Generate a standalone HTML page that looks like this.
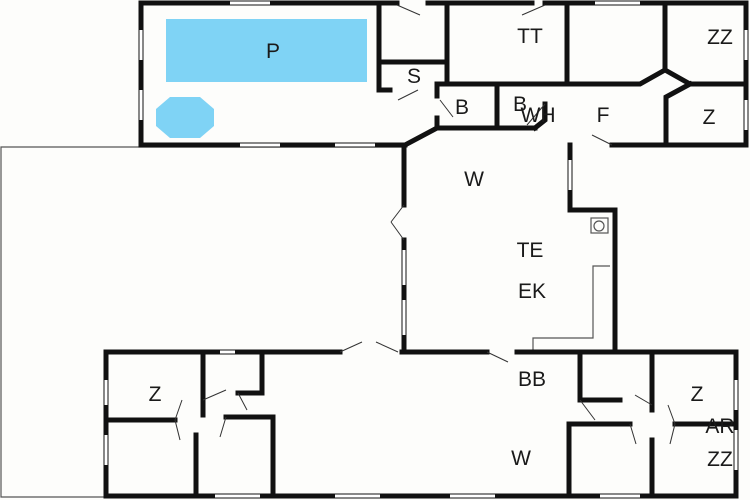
<!DOCTYPE html><html><head><style>body{margin:0;background:#fff}svg{display:block}text{font-family:"Liberation Sans",sans-serif;font-size:21px;fill:#1a1a1a;text-anchor:middle}</style></head><body>
<svg width="750" height="500" viewBox="0 0 750 500">
<rect width="750" height="500" fill="#fdfdfb"/>
<g fill="none" stroke="#555" stroke-width="1.2">
<polyline points="404,147 1,147 1,497 104,497"/>
<polyline points="533,352 533,338 593,338 593,266 610,266"/>
<rect x="591" y="218" width="17" height="15"/>
<circle cx="599" cy="226" r="5"/>
</g>
<rect x="166" y="19" width="201" height="63" fill="#7fd3f5"/>
<polygon points="170,97 200,97 214,109 214,126 200,138 170,138 156,126 156,109" fill="#7fd3f5"/>
<g stroke="#111" stroke-width="5" fill="none" stroke-linecap="square">
<!-- top building -->
<polyline points="397,3 141,3 141,145 405,145"/>
<line x1="428" y1="3" x2="532" y2="3"/>
<line x1="545" y1="3" x2="746" y2="3"/>
<line x1="746" y1="3" x2="746" y2="145"/>
<line x1="612" y1="145" x2="746" y2="145"/>
<polyline points="379,3 379,90 390,90"/>
<line x1="379" y1="62" x2="447" y2="62"/>
<line x1="447" y1="3" x2="447" y2="84"/>
<line x1="567" y1="3" x2="567" y2="84"/>
<polyline points="437,84 640,84 665,70 690,84 746,84"/>
<line x1="665" y1="3" x2="665" y2="70"/>
<polyline points="690,84 666,97 666,145"/>
<line x1="437" y1="84" x2="437" y2="96"/>
<polyline points="437,118 437,128 405,145"/>
<line x1="437" y1="128" x2="535" y2="128"/>
<line x1="497" y1="84" x2="497" y2="128"/>
<polyline points="535,128 545,120 545,104"/>
<!-- middle -->
<line x1="404" y1="145" x2="404" y2="205"/>
<line x1="404" y1="240" x2="404" y2="352"/>
<polyline points="570,145 570,210 615,210 615,352"/>
<!-- bottom building -->
<polyline points="340,352 106,352 106,496 736,496 736,352 620,352"/>
<line x1="402" y1="352" x2="487" y2="352"/>
<line x1="517" y1="352" x2="610" y2="352"/>
<line x1="203" y1="352" x2="203" y2="415"/>
<line x1="262" y1="352" x2="262" y2="393"/>
<line x1="238" y1="393" x2="262" y2="393"/>
<line x1="106" y1="420" x2="175" y2="420"/>
<line x1="196" y1="435" x2="196" y2="496"/>
<polyline points="226,417 273,417 273,496"/>
<polyline points="580,352 580,400 620,400"/>
<line x1="652" y1="352" x2="652" y2="410"/>
<polyline points="630,424 569,424 569,496"/>
<line x1="652" y1="440" x2="652" y2="496"/>
<line x1="675" y1="424" x2="736" y2="424"/>
</g>
<g stroke="#fff" stroke-width="3">
<line x1="230" y1="3" x2="270" y2="3"/><line x1="141" y1="30" x2="141" y2="60"/><line x1="141" y1="90" x2="141" y2="120"/>
<line x1="240" y1="145" x2="280" y2="145"/><line x1="335" y1="145" x2="375" y2="145"/>
<line x1="595" y1="3" x2="640" y2="3"/><line x1="746" y1="30" x2="746" y2="60"/><line x1="746" y1="100" x2="746" y2="130"/>
<line x1="404" y1="250" x2="404" y2="285"/><line x1="404" y1="300" x2="404" y2="335"/><line x1="570" y1="160" x2="570" y2="190"/>
<line x1="106" y1="380" x2="106" y2="405"/><line x1="106" y1="435" x2="106" y2="465"/><line x1="220" y1="352" x2="235" y2="352"/>
<line x1="215" y1="496" x2="260" y2="496"/><line x1="335" y1="496" x2="380" y2="496"/><line x1="450" y1="496" x2="495" y2="496"/>
<line x1="600" y1="496" x2="640" y2="496"/><line x1="736" y1="380" x2="736" y2="410"/><line x1="736" y1="430" x2="736" y2="470"/>
</g>
<g stroke="#333" stroke-width="1">
<line x1="397" y1="5" x2="420" y2="15"/><line x1="545" y1="5" x2="522" y2="15"/><line x1="418" y1="90" x2="398" y2="100"/>
<line x1="440" y1="100" x2="453" y2="117"/><line x1="545" y1="104" x2="527" y2="125"/><line x1="592" y1="135" x2="612" y2="145"/>
<line x1="404" y1="205" x2="391" y2="222"/><line x1="404" y1="240" x2="391" y2="222"/>
<line x1="340" y1="352" x2="362" y2="342"/><line x1="398" y1="352" x2="376" y2="342"/><line x1="487" y1="352" x2="508" y2="362"/>
<line x1="175" y1="420" x2="182" y2="400"/><line x1="175" y1="420" x2="180" y2="440"/><line x1="203" y1="400" x2="226" y2="390"/>
<line x1="238" y1="393" x2="247" y2="410"/><line x1="226" y1="417" x2="220" y2="437"/>
<line x1="580" y1="400" x2="595" y2="420"/><line x1="652" y1="405" x2="635" y2="395"/><line x1="630" y1="424" x2="636" y2="444"/>
<line x1="675" y1="424" x2="668" y2="405"/><line x1="675" y1="424" x2="670" y2="444"/>
</g>
<text x="273" y="58">P</text><text x="530" y="43">TT</text><text x="720" y="44">ZZ</text>
<text x="414" y="83">S</text><text x="462" y="114">B</text><text x="520" y="111">B</text><text x="538" y="122">WH</text>
<text x="603" y="122">F</text><text x="709" y="124">Z</text><text x="474" y="186">W</text>
<text x="530" y="257">TE</text><text x="532" y="298">EK</text><text x="532" y="386">BB</text>
<text x="155" y="401">Z</text><text x="697" y="401">Z</text><text x="720" y="433">AR</text><text x="720" y="466">ZZ</text><text x="521" y="465">W</text>
</svg></body></html>
